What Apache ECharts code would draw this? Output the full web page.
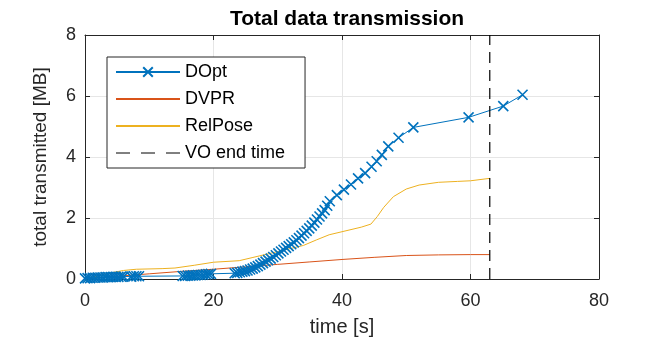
<!DOCTYPE html>
<html><head><meta charset="utf-8">
<script src="https://cdn.jsdelivr.net/npm/echarts@6/dist/echarts.min.js"></script>
<style>html,body{margin:0;padding:0;background:#fff}#c{width:664px;height:349px}</style>
</head><body><div id="c"></div>
<script>
var xTicks = [0, 20, 40, 60, 80];
var yTicks = [0, 2, 4, 6, 8];
var seriesNames = ['DOpt', 'DVPR', 'RelPose', 'VO end time'];
var dopt = [[0,0.02],[0.4,0.03],[0.8,0.03],[1.2,0.04],[1.6,0.04],[2.0,0.05],[2.4,0.05],[2.8,0.05],[3.2,0.06],[3.6,0.06],[4.0,0.06],[4.4,0.07],[4.8,0.07],[5.2,0.07],[5.6,0.08],[6.0,0.08],[7.2,0.08],[7.6,0.09],[8.0,0.09],[8.4,0.09],
  [15.2,0.1],[15.6,0.1],[16.0,0.11],[16.4,0.11],[16.8,0.12],[17.2,0.12],[17.6,0.13],[18.0,0.13],[18.4,0.14],[18.8,0.15],[19.2,0.16],[19.6,0.17],
  [23.3,0.19],[23.7,0.2],[24.1,0.22],[24.5,0.24],[24.9,0.26],[25.3,0.28],[25.7,0.31],[26.1,0.34],[26.5,0.38],[26.9,0.42],[27.3,0.47],[27.7,0.52],[28.1,0.57],[28.5,0.62],[28.9,0.67],[29.3,0.72],[29.7,0.78],[30.1,0.84],[30.5,0.9],[30.9,0.96],[31.3,1.02],[31.7,1.08],[32.1,1.14],[32.5,1.2],[32.9,1.27],[33.3,1.34],[33.7,1.42],[34.1,1.5],[34.5,1.58],[34.9,1.66],[35.3,1.75],[35.7,1.85],[36.1,1.95],[36.5,2.05],[36.9,2.15],[37.3,2.26],[37.7,2.4],[38.1,2.55],
  [39.2,2.75],[40.3,2.93],[41.4,3.1],[42.5,3.3],[43.6,3.47],[44.6,3.68],[45.4,3.86],[46.2,4.07],[47.2,4.35],[48.8,4.63],[51.1,4.97],[59.7,5.3],[65.1,5.67],[68.1,6.04]];
var dvpr = [[0,0],[5,0.09],[10,0.17],[15,0.25],[20,0.32],[25,0.4],[30,0.48],[35,0.56],[40,0.64],[45,0.71],[50,0.77],[55,0.79],[60,0.8],[63,0.8]];
var relpose = [[0,0],[2,0.1],[4,0.2],[6,0.28],[8,0.32],[12,0.34],[14,0.36],[17,0.45],[20,0.55],[24,0.6],[26,0.7],[28,0.8],[30,0.9],[32,1.0],[34,1.1],[36,1.28],[38,1.45],[40,1.55],[43,1.7],[44.5,1.8],[45.5,2.05],[46.5,2.35],[48,2.7],[50,2.95],[52,3.08],[55,3.17],[58,3.2],[60,3.22],[63,3.3]];
var voEnd = [[63,0],[63,8]];

var FONT = '"Liberation Sans", Arial, sans-serif';
var AX = '#262626';
var cross = 'path://M0,0L10,10M10,0L0,10';
var chart = echarts.init(document.getElementById('c'), null, {renderer:'canvas'});
function xAx(pos, show){
  return {type:'value', position:pos, min:xTicks[0], max:xTicks[xTicks.length-1], interval:20,
    axisLine:{show:true, onZero:false, lineStyle:{color:AX, width:1}},
    axisTick:{show:true, inside:true, length:5, lineStyle:{color:AX}},
    axisLabel:{show:show, margin:13, color:AX, fontSize:18, fontFamily:FONT},
    splitLine:{show:show, lineStyle:{color:'#e6e6e6', width:1}},
    name: show ? 'time [s]' : '', nameLocation:'middle', nameGap:38,
    nameTextStyle:{color:AX, fontSize:20, fontFamily:FONT}};
}
function yAx(pos, show){
  return {type:'value', position:pos, min:yTicks[0], max:yTicks[yTicks.length-1], interval:2,
    axisLine:{show:true, onZero:false, lineStyle:{color:AX, width:1}},
    axisTick:{show:true, inside:true, length:5, lineStyle:{color:AX}},
    axisLabel:{show:show, margin:9, color:AX, fontSize:18, fontFamily:FONT},
    splitLine:{show:show, lineStyle:{color:'#e6e6e6', width:1}},
    name: show ? 'total transmitted [MB]' : '', nameLocation:'middle', nameGap:35,
    nameTextStyle:{color:AX, fontSize:19, fontFamily:FONT}};
}
var legendData = seriesNames.map(function(n, i){
  if (i === 0) return {name:n};
  var d = {name:n, itemStyle:{color:'rgba(0,0,0,0)', borderWidth:0, opacity:0}};
  if (i === 3) d.lineStyle = {type:[14,11], color:'#000', width:1};
  return d;
});
chart.setOption({
  animation:false,
  title:{text:'Total data transmission', left:342, textAlign:'center', top:4,
    textStyle:{fontFamily:FONT, fontWeight:'bold', fontSize:21, color:'#000'}},
  grid:{left:85, right:65, top:35, bottom:70, containLabel:false},
  xAxis:[xAx('bottom', true), xAx('top', false)],
  yAxis:[yAx('left', true), yAx('right', false)],
  legend:{orient:'vertical', left:107, top:57, backgroundColor:'#fff', borderColor:AX, borderWidth:1,
    padding:[6,20,6,8], itemWidth:64, itemHeight:12, itemGap:9,
    textStyle:{fontFamily:FONT, fontSize:18, color:'#000'},
    data:legendData},
  series:[
    {name:seriesNames[0], type:'line', data:dopt, symbol:cross, symbolSize:10, showAllSymbol:true,
      lineStyle:{color:'#0072BD', width:1}, itemStyle:{color:'#0072BD', borderColor:'#0072BD', borderWidth:1.6}, z:5},
    {name:seriesNames[1], type:'line', data:dvpr, showSymbol:false, symbol:'none',
      lineStyle:{color:'#D95319', width:1}, itemStyle:{color:'#D95319'}, z:3},
    {name:seriesNames[2], type:'line', data:relpose, showSymbol:false, symbol:'none',
      lineStyle:{color:'#EDB120', width:1}, itemStyle:{color:'#EDB120'}, z:4},
    {name:seriesNames[3], type:'line', data:voEnd, showSymbol:false, symbol:'none',
      lineStyle:{color:'#000', width:1.2, type:[11,7]}, itemStyle:{color:'#000'}, z:6}
  ]
});
</script></body></html>
